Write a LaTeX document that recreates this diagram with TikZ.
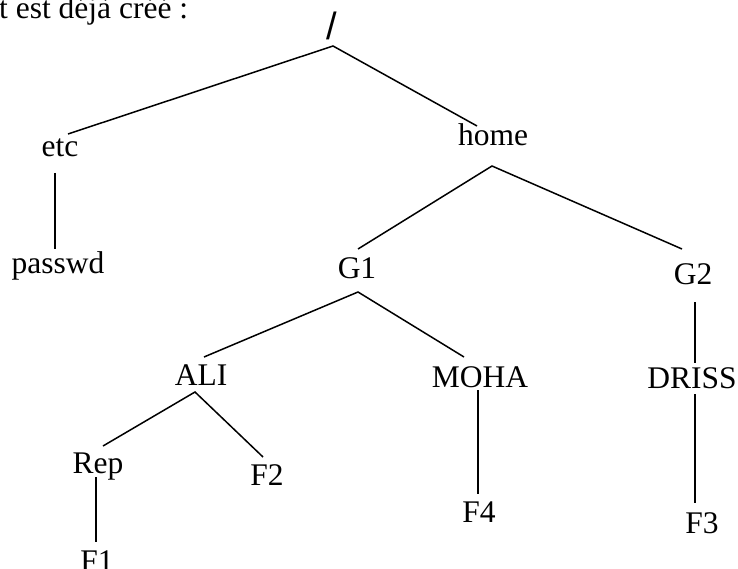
\documentclass[tikz,border=0pt]{standalone}
\usepackage{fontspec}
\setmainfont{Liberation Serif}
\newfontfamily\slashfont{Liberation Sans}

\begin{document}
\begin{tikzpicture}[x=1pt,y=-1pt]
	
	\tikzset{dir/.style={anchor=base, inner sep=0pt, font=\fontsize{31.5}{36}\selectfont}}
	\tikzset{branch/.style={line width=1.5pt}}
	
	\useasboundingbox (0,0) rectangle (738,569);
	
	% sentence cut at the top
	\node[dir, anchor=base west] (intro) at (-1,19) {t est déjà créé :};
	
	% directories and files
	\node[dir, font=\slashfont\fontsize{38}{40}\selectfont] (root) at (332,40) {/};
	\node[dir] (etc) at (60,157) {etc};
	\node[dir] (home) at (493,146) {home};
	\node[dir] (passwd) at (58,273) {passwd};
	\node[dir] (G1) at (357,278) {G1};
	\node[dir] (G2) at (693,284) {G2};
	\node[dir] (ALI) at (201,385) {ALI};
	\node[dir] (MOHA) at (480,387) {MOHA};
	\node[dir] (DRISS) at (692,388) {DRISS};
	\node[dir] (Rep) at (98,473) {Rep};
	\node[dir] (F2) at (267,485) {F2};
	\node[dir] (F4) at (479,522) {F4};
	\node[dir] (F3) at (702,533) {F3};
	\node[dir] (F1) at (97,571) {F1};
	
	% ends of the branches
	\coordinate (root-out) at (333,46);
	\coordinate (etc-in) at (68,134);
	\coordinate (home-in) at (477,126);
	\coordinate (etc-out) at (55,173);
	\coordinate (passwd-in) at (55,249);
	\coordinate (home-out) at (492,166);
	\coordinate (G1-in) at (358,249);
	\coordinate (G2-in) at (682,249);
	\coordinate (G1-out) at (358,292);
	\coordinate (ALI-in) at (204,357);
	\coordinate (MOHA-in) at (464,357);
	\coordinate (G2-out) at (695,302);
	\coordinate (DRISS-in) at (695,363);
	\coordinate (ALI-out) at (195,392);
	\coordinate (Rep-in) at (103,446);
	\coordinate (F2-in) at (263,457);
	\coordinate (MOHA-out) at (478,390);
	\coordinate (F4-in) at (478,494);
	\coordinate (DRISS-out) at (695,394);
	\coordinate (F3-in) at (695,503);
	\coordinate (Rep-out) at (96,477);
	\coordinate (F1-in) at (96,542);
	
	\draw[branch] (etc-in) -- (root-out) -- (home-in);
	\draw[branch] (etc-out) -- (passwd-in);
	\draw[branch] (G1-in) -- (home-out) -- (G2-in);
	\draw[branch] (ALI-in) -- (G1-out) -- (MOHA-in);
	\draw[branch] (G2-out) -- (DRISS-in);
	\draw[branch] (Rep-in) -- (ALI-out) -- (F2-in);
	\draw[branch] (MOHA-out) -- (F4-in);
	\draw[branch] (DRISS-out) -- (F3-in);
	\draw[branch] (Rep-out) -- (F1-in);
	
\end{tikzpicture}
\end{document}
